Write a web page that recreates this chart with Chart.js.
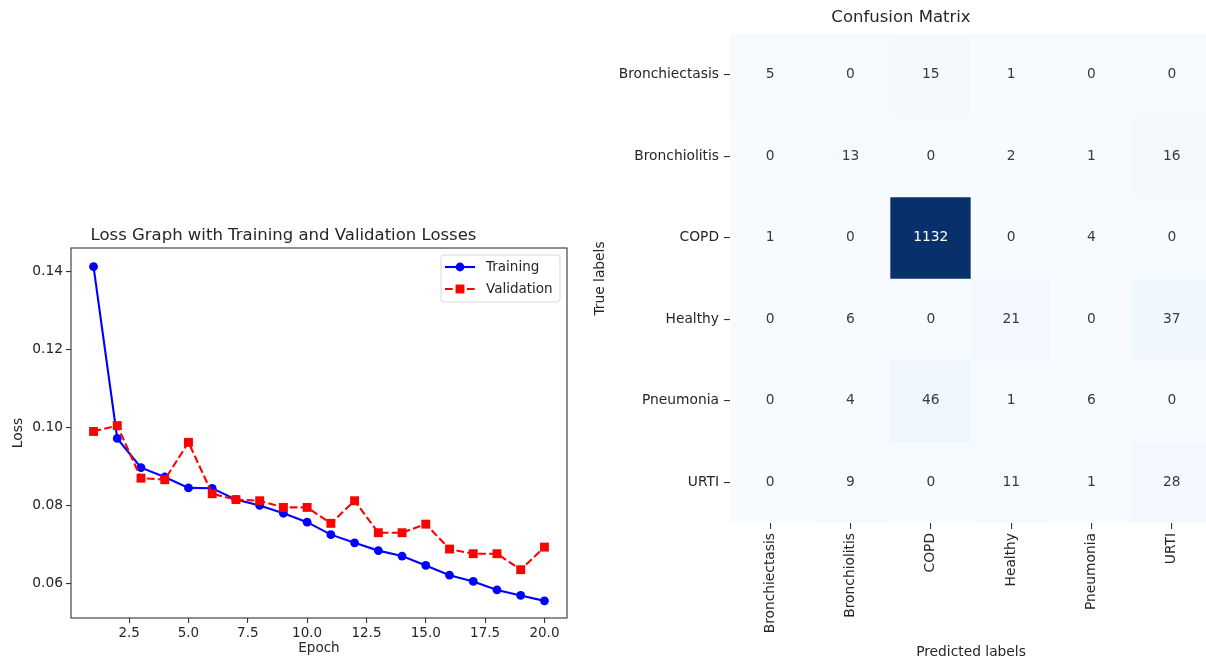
<!DOCTYPE html>
<html>
<head>
<meta charset="utf-8">
<title>Loss graph and confusion matrix</title>
<script src="https://cdn.jsdelivr.net/npm/chart.js@4.4.0/dist/chart.umd.min.js"></script>
<style>
    html, body { margin: 0; padding: 0; background: #fff; overflow: hidden; }
    body { width: 1206px; height: 663px; position: relative; }
    #lossChart { position: absolute; left: 0; top: 215px; }
    #cmChart { position: absolute; left: 590px; top: 0; }
</style>
</head>
<body>
<canvas id="lossChart" width="590" height="448"></canvas>
<canvas id="cmChart" width="640" height="663"></canvas>
<script>
// ---- loss curve data ----
const epochs = [1, 2, 3, 4, 5, 6, 7, 8, 9, 10, 11, 12, 13, 14, 15, 16, 17, 18, 19, 20];
const trainingLoss = [0.1413, 0.0972, 0.0897, 0.0873, 0.0845, 0.0844, 0.0815, 0.0800, 0.0780, 0.0757, 0.0725, 0.0704, 0.0684, 0.0670, 0.0646, 0.0621, 0.0605, 0.0583, 0.0569, 0.0555];
const validationLoss = [0.0990, 0.1005, 0.0870, 0.0866, 0.0962, 0.0830, 0.0815, 0.0812, 0.0795, 0.0795, 0.0754, 0.0812, 0.0730, 0.0730, 0.0752, 0.0688, 0.0676, 0.0676, 0.0635, 0.0693];
const epochTicks = [2.5, 5, 7.5, 10, 12.5, 15, 17.5, 20];
const lossTicks = [0.06, 0.08, 0.10, 0.12, 0.14];

// ---- confusion matrix data (rows = true, columns = predicted) ----
const classLabels = ['Bronchiectasis', 'Bronchiolitis', 'COPD', 'Healthy', 'Pneumonia', 'URTI'];
const rowBronchiectasis = [5, 0, 15, 1, 0, 0];
const rowBronchiolitis = [0, 13, 0, 2, 1, 16];
const rowCOPD = [1, 0, 1132, 0, 4, 0];
const rowHealthy = [0, 6, 0, 21, 0, 37];
const rowPneumonia = [0, 4, 46, 1, 6, 0];
const rowURTI = [0, 9, 0, 11, 1, 28];
const matrixRows = [rowBronchiectasis, rowBronchiolitis, rowCOPD, rowHealthy, rowPneumonia, rowURTI];

const FONT = '"DejaVu Sans", "Liberation Sans", sans-serif';
const INK = '#262626';

// matplotlib "Blues" colour map
const bluesStops = ['#f7fbff', '#deebf7', '#c6dbef', '#9ecae1', '#6baed6', '#4292c6', '#2171b5', '#08519c', '#08306b'];

function hexToRgb(hex) {
    const n = parseInt(hex.slice(1), 16);
    return [(n >> 16) & 255, (n >> 8) & 255, n & 255];
}

function bluesRgb(t) {
    const pos = Math.min(Math.max(t, 0), 1) * (bluesStops.length - 1);
    const i = Math.min(Math.floor(pos), bluesStops.length - 2);
    const f = pos - i;
    const a = hexToRgb(bluesStops[i]);
    const b = hexToRgb(bluesStops[i + 1]);
    return a.map((c, k) => Math.round(c + (b[k] - c) * f));
}

function luminance(rgb) {
    const lin = rgb.map(c => {
        c = c / 255;
        return c <= 0.03928 ? c / 12.92 : Math.pow((c + 0.055) / 1.055, 2.4);
    });
    return 0.2126 * lin[0] + 0.7152 * lin[1] + 0.0722 * lin[2];
}

const maxCount = Math.max(...matrixRows.flat());

// box round the whole plot area, like matplotlib spines
const frameBox = {
    id: 'frameBox',
    afterDatasetsDraw(chart) {
        const { ctx, chartArea } = chart;
        ctx.save();
        ctx.strokeStyle = '#333';
        ctx.lineWidth = 1.1;
        ctx.strokeRect(chartArea.left, chartArea.top, chartArea.right - chartArea.left, chartArea.bottom - chartArea.top);
        ctx.restore();
    }
};

// legend sitting inside the top right corner of the plot
const insetLegend = {
    id: 'insetLegend',
    afterDraw(chart) {
        const { ctx, chartArea } = chart;
        const w = 119, h = 47;
        const x0 = chartArea.right - 7 - w;
        const y0 = chartArea.top + 7;
        ctx.save();
        ctx.beginPath();
        ctx.roundRect(x0, y0, w, h, 3);
        ctx.fillStyle = 'rgba(255,255,255,0.85)';
        ctx.fill();
        ctx.strokeStyle = '#d9d9d9';
        ctx.lineWidth = 1;
        ctx.stroke();
        chart.data.datasets.forEach((ds, i) => {
            const y = y0 + 12 + i * 22;
            ctx.beginPath();
            ctx.setLineDash(ds.borderDash || []);
            ctx.strokeStyle = ds.borderColor;
            ctx.lineWidth = ds.borderWidth;
            ctx.moveTo(x0 + 4, y);
            ctx.lineTo(x0 + 34, y);
            ctx.stroke();
            ctx.setLineDash([]);
            ctx.fillStyle = ds.pointBackgroundColor;
            if (ds.pointStyle === 'rect') {
                const s = ds.pointRadius * Math.SQRT1_2;
                ctx.fillRect(x0 + 19 - s, y - s, 2 * s, 2 * s);
            } else {
                ctx.beginPath();
                ctx.arc(x0 + 19, y, ds.pointRadius, 0, Math.PI * 2);
                ctx.fill();
            }
            ctx.font = '13.5px ' + FONT;
            ctx.fillStyle = INK;
            ctx.textBaseline = 'middle';
            ctx.textAlign = 'left';
            ctx.fillText(ds.label, x0 + 45, y);
        });
        ctx.restore();
    }
};

new Chart(document.getElementById('lossChart'), {
    type: 'line',
    data: {
        datasets: [{
            label: 'Training',
            data: epochs.map((e, i) => ({ x: e, y: trainingLoss[i] })),
            borderColor: '#0000ff',
            backgroundColor: '#0000ff',
            pointBackgroundColor: '#0000ff',
            borderWidth: 2.1,
            pointStyle: 'circle',
            pointRadius: 4.4,
            pointBorderWidth: 0,
            tension: 0,
            order: 1
        }, {
            label: 'Validation',
            data: epochs.map((e, i) => ({ x: e, y: validationLoss[i] })),
            borderColor: '#ff0000',
            backgroundColor: '#ff0000',
            pointBackgroundColor: '#ff0000',
            borderWidth: 2.1,
            borderDash: [7.7, 3.3],
            pointStyle: 'rect',
            pointRadius: 6.3,
            pointBorderWidth: 0,
            tension: 0,
            order: 0
        }]
    },
    options: {
        responsive: false,
        animation: false,
        events: [],
        layout: { padding: { left: 0, right: 23, top: 0, bottom: 0 } },
        plugins: {
            legend: { display: false },
            tooltip: { enabled: false },
            title: {
                display: true,
                text: 'Loss Graph with Training and Validation Losses',
                color: INK,
                font: { family: FONT, size: 16.5, weight: 'normal' },
                padding: { top: 11, bottom: 2.2 }
            }
        },
        scales: {
            x: {
                type: 'linear',
                min: 0.05,
                max: 20.95,
                afterBuildTicks: (scale) => { scale.ticks = epochTicks.map(v => ({ value: v })); },
                afterFit: (scale) => { scale.height = 45; },
                ticks: {
                    color: INK,
                    font: { family: FONT, size: 13.5 },
                    padding: 2,
                    maxRotation: 0,
                    callback: (v) => Number(v).toFixed(1)
                },
                grid: { drawOnChartArea: false, drawTicks: true, tickLength: 5, color: '#333', lineWidth: 1.1 },
                border: { display: false },
                title: {
                    display: true,
                    text: 'Epoch',
                    color: INK,
                    font: { family: FONT, size: 13.5 },
                    padding: { top: 0, bottom: 6 }
                }
            },
            y: {
                type: 'linear',
                min: 0.0511,
                max: 0.1461,
                afterBuildTicks: (scale) => { scale.ticks = lossTicks.map(v => ({ value: v })); },
                afterFit: (scale) => { scale.width = 71; },
                ticks: {
                    color: INK,
                    font: { family: FONT, size: 13.8 },
                    padding: 3,
                    callback: (v) => Number(v).toFixed(2)
                },
                grid: { drawOnChartArea: false, drawTicks: true, tickLength: 5, color: '#333', lineWidth: 1.1 },
                border: { display: false },
                title: {
                    display: true,
                    text: 'Loss',
                    color: INK,
                    font: { family: FONT, size: 13.8 },
                    padding: { top: 9.7, bottom: 0 }
                }
            }
        }
    },
    plugins: [frameBox, insetLegend]
});

// numbers written in the middle of every heatmap cell
const cellValues = {
    id: 'cellValues',
    afterDatasetsDraw(chart) {
        const { ctx } = chart;
        ctx.save();
        ctx.font = '13.8px ' + FONT;
        ctx.textAlign = 'center';
        ctx.textBaseline = 'middle';
        chart.data.datasets.forEach((ds, di) => {
            chart.getDatasetMeta(di).data.forEach((bar, ci) => {
                const v = ds.counts[ci];
                const { x, y, base } = bar.getProps(['x', 'y', 'base'], true);
                const lum = luminance(bluesRgb(v / maxCount));
                ctx.fillStyle = lum > 0.408 ? '#3a3a3a' : '#ffffff';
                ctx.fillText(String(v), x, (y + base) / 2);
            });
        });
        ctx.restore();
    }
};

new Chart(document.getElementById('cmChart'), {
    type: 'bar',
    data: {
        labels: classLabels,
        datasets: matrixRows.map((row, ri) => ({
            label: classLabels[ri],
            counts: row,
            data: row.map(() => [ri - 0.5, ri + 0.5]),
            backgroundColor: row.map(v => 'rgb(' + bluesRgb(v / maxCount).join(',') + ')'),
            borderWidth: 0,
            grouped: false,
            barPercentage: 1,
            categoryPercentage: 1
        }))
    },
    options: {
        responsive: false,
        animation: false,
        events: [],
        layout: { padding: { left: 0, right: 18, top: 0, bottom: 0 } },
        plugins: {
            legend: { display: false },
            tooltip: { enabled: false },
            title: {
                display: true,
                text: 'Confusion Matrix',
                color: INK,
                font: { family: FONT, size: 16.5, weight: 'normal' },
                padding: { top: 7.6, bottom: 6.6 }
            }
        },
        scales: {
            x: {
                type: 'category',
                afterFit: (scale) => { scale.height = 140; },
                ticks: {
                    color: INK,
                    font: { family: FONT, size: 13.8 },
                    autoSkip: false,
                    maxRotation: 90,
                    minRotation: 90,
                    padding: 4
                },
                grid: { display: true, offset: false, drawOnChartArea: false, drawTicks: true, tickLength: 6, color: '#333', lineWidth: 1.1 },
                border: { display: false },
                title: {
                    display: true,
                    text: 'Predicted labels',
                    color: INK,
                    font: { family: FONT, size: 13.8 },
                    padding: { top: 0, bottom: 2 }
                }
            },
            y: {
                type: 'linear',
                min: -0.5,
                max: 5.5,
                reverse: true,
                afterBuildTicks: (scale) => { scale.ticks = classLabels.map((_, i) => ({ value: i })); },
                afterFit: (scale) => { scale.width = 140; },
                ticks: {
                    color: INK,
                    font: { family: FONT, size: 13.8 },
                    padding: 5,
                    callback: (v) => classLabels[v]
                },
                grid: { drawOnChartArea: false, drawTicks: true, tickLength: 6, color: '#333', lineWidth: 1.1 },
                border: { display: false },
                title: {
                    display: true,
                    text: 'True labels',
                    color: INK,
                    font: { family: FONT, size: 13.8 },
                    padding: { top: 2, bottom: 0 }
                }
            }
        }
    },
    plugins: [cellValues]
});
</script>
</body>
</html>
